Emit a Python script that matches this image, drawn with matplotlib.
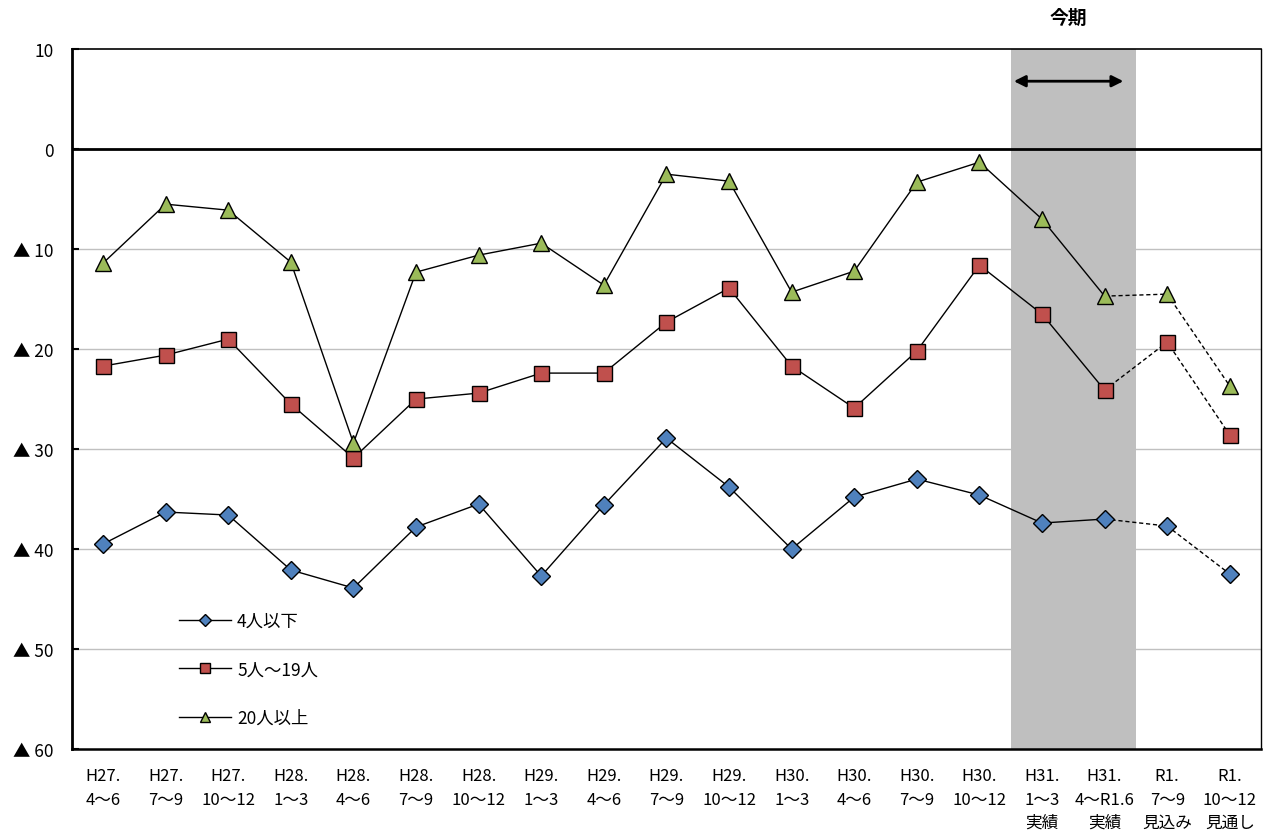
import matplotlib
matplotlib.use("Agg")
import matplotlib.pyplot as plt
import numpy as np

plt.rcParams['font.family'] = ['Noto Sans CJK JP', 'DejaVu Sans']

categories = ["H27.\n4～6", "H27.\n7～9", "H27.\n10～12", "H28.\n1～3", "H28.\n4～6",
              "H28.\n7～9", "H28.\n10～12", "H29.\n1～3", "H29.\n4～6", "H29.\n7～9",
              "H29.\n10～12", "H30.\n1～3", "H30.\n4～6", "H30.\n7～9", "H30.\n10～12",
              "H31.\n1～3\n実績", "H31.\n4～R1.6\n実績", "R1.\n7～9\n見込み", "R1.\n10～12\n見通し"]

small = [-39.5, -36.3, -36.6, -42.1, -43.9, -37.8, -35.5, -42.7, -35.6, -28.9,
         -33.8, -40.0, -34.8, -33.0, -34.6, -37.4, -37.0, -37.7, -42.5]
medium = [-21.7, -20.6, -19.0, -25.5, -30.9, -25.0, -24.4, -22.4, -22.4, -17.3,
          -13.9, -21.7, -25.9, -20.2, -11.6, -16.5, -24.1, -19.3, -28.6]
large = [-11.4, -5.5, -6.1, -11.3, -29.4, -12.3, -10.6, -9.4, -13.6, -2.5,
         -3.2, -14.3, -12.2, -3.3, -1.3, -7.0, -14.7, -14.5, -23.7]

series_names = ["4人以下", "5人～19人", "20人以上"]
yticks = [10, 0, -10, -20, -30, -40, -50, -60]
ytick_labels = ["10", "0", "▲ 10", "▲ 20", "▲ 30", "▲ 40", "▲ 50", "▲ 60"]

n_actual = 17  # number of actual (solid) points
current_period = (15, 16)

fig = plt.figure(figsize=(12.7, 8.37), dpi=100)
ax = fig.add_axes([0.0565, 0.104, 0.9365, 0.836])

x = np.arange(len(categories))
ax.set_xlim(-0.5, len(categories) - 0.5)
ax.set_ylim(-60, 10)

# gridlines
for yv in [-10, -20, -30, -40, -50]:
    ax.axhline(yv, color='#c0c0c0', lw=1.0, zorder=1)

# shaded current period
ax.axvspan(current_period[0] - 0.5, current_period[1] + 0.5, color='#bfbfbf', lw=0, zorder=2)

# zero line
ax.axhline(0, color='black', lw=2.0, zorder=3)

styles = [
    dict(marker='D', color='#4f81bd', ms=9.5),
    dict(marker='s', color='#c0504d', ms=10.8),
    dict(marker='^', color='#9bbb59', ms=12),
]
handles = []
for vals, st, name in zip([small, medium, large], styles, series_names):
    vals = np.array(vals)
    h, = ax.plot(x[:n_actual], vals[:n_actual], color='black', lw=1.0,
                 marker=st['marker'], markersize=st['ms'], markerfacecolor=st['color'],
                 markeredgecolor='black', markeredgewidth=1.0, zorder=5, label=name)
    ax.plot(x[n_actual - 1:], vals[n_actual - 1:], color='black', lw=1.0,
            linestyle=(0, (3, 2)), marker='none', zorder=4)
    ax.plot(x[n_actual:], vals[n_actual:], linestyle='none',
            marker=st['marker'], markersize=st['ms'], markerfacecolor=st['color'],
            markeredgecolor='black', markeredgewidth=1.0, zorder=5)
    handles.append(h)

# arrow and label for current period
ax.annotate('', xy=(14.55, 6.8), xytext=(16.3, 6.8),
            arrowprops=dict(arrowstyle='<|-|>', color='black', lw=2,
                            mutation_scale=17, shrinkA=0, shrinkB=0), zorder=6)
ax.text(15.42, 13.2, "今期", ha='center', va='center', fontsize=13.5, fontweight='bold',
        clip_on=False)

ax.set_yticks(yticks)
ax.set_yticklabels(ytick_labels, fontsize=12.5)
ax.set_xticks(x)
ax.set_xticklabels(categories, fontsize=12, linespacing=1.5)
ax.tick_params(axis='y', direction='in', length=5, width=1.5, pad=13)
ax.tick_params(axis='x', length=0, pad=13)

ax.spines['left'].set_linewidth(2.0)
ax.spines['bottom'].set_linewidth(1.8)
ax.spines['top'].set_linewidth(1.2)
ax.spines['right'].set_linewidth(1.0)
for s in ax.spines.values():
    s.set_zorder(7)

leg = ax.legend(handles=handles, loc='upper left', bbox_to_anchor=(0.077, 0.218),
                frameon=False, fontsize=12.5, labelspacing=1.75, handlelength=3.0,
                handletextpad=0.35, markerscale=0.65)

fig.savefig("out.png", dpi=100)
